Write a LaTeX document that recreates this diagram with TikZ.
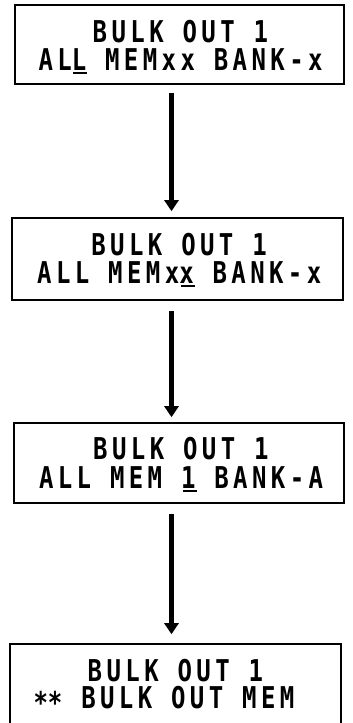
\documentclass[tikz,border=0pt]{standalone}
\usepackage{fontspec}
\newfontfamily\lcdfont[FakeStretch=0.8, LetterSpace=14.7]{DejaVu Sans Mono Bold}
\usetikzlibrary{arrows.meta}
\newcommand\ulc[1]{\rlap{\kern1.5pt\rule[-3.5pt]{14pt}{2pt}}#1}
\newcommand\astk{\raisebox{-5pt}{*}}
\tikzset{
  lcdbox/.style={draw=black, line width=1.6pt, inner sep=0pt, fill=none},
  lcdline/.style={inner sep=0pt, anchor=base west, font=\lcdfont\fontsize{30pt}{30pt}\selectfont},
  flowarrow/.style={draw=black, line width=4.8pt, -{Triangle[width=14pt,length=11pt]}}
}
\begin{document}
\begin{tikzpicture}[x=1pt,y=-1pt]
\useasboundingbox (0,0) rectangle (353,723);
\clip (0,0) rectangle (353,723);
\coordinate (ax) at (171.5,0);
% boxes
\node[lcdbox, minimum width=329pt, minimum height=79pt] (b1) at (179.5,44.5) {};
\node[lcdbox, minimum width=331pt, minimum height=82pt] (b2) at (177.5,259) {};
\node[lcdbox, minimum width=330pt, minimum height=80pt] (b3) at (179,463) {};
\node[lcdbox, minimum width=331pt, minimum height=100pt] (b4) at (175.5,694) {};
% texts
\node[lcdline] (t1a) at (92.5,42) {BULK OUT 1};
\node[lcdline] (t1b) at (38.3,70) {AL\ulc{L} MEMxx BANK-x};
\node[lcdline] (t2a) at (91.2,255) {BULK OUT 1};
\node[lcdline] (t2b) at (37,283) {ALL MEMx\ulc{x} BANK-x};
\node[lcdline] (t3a) at (93,459) {BULK OUT 1};
\node[lcdline] (t3b) at (38.8,488) {ALL MEM \ulc{1} BANK-A};
\node[lcdline] (t4a) at (87.5,681) {BULK OUT 1};
\node[lcdline] (t4b) at (33.3,708) {\astk\astk{} BULK OUT MEM};
% arrows
\draw[flowarrow, shorten <=8pt, shorten >=6pt] (ax |- b1.south) -- (ax |- b2.north);
\draw[flowarrow, shorten <=10pt, shorten >=5pt] (ax |- b2.south) -- (ax |- b3.north);
\draw[flowarrow, shorten <=10pt, shorten >=9pt] (ax |- b3.south) -- (ax |- b4.north);
\end{tikzpicture}
\end{document}
